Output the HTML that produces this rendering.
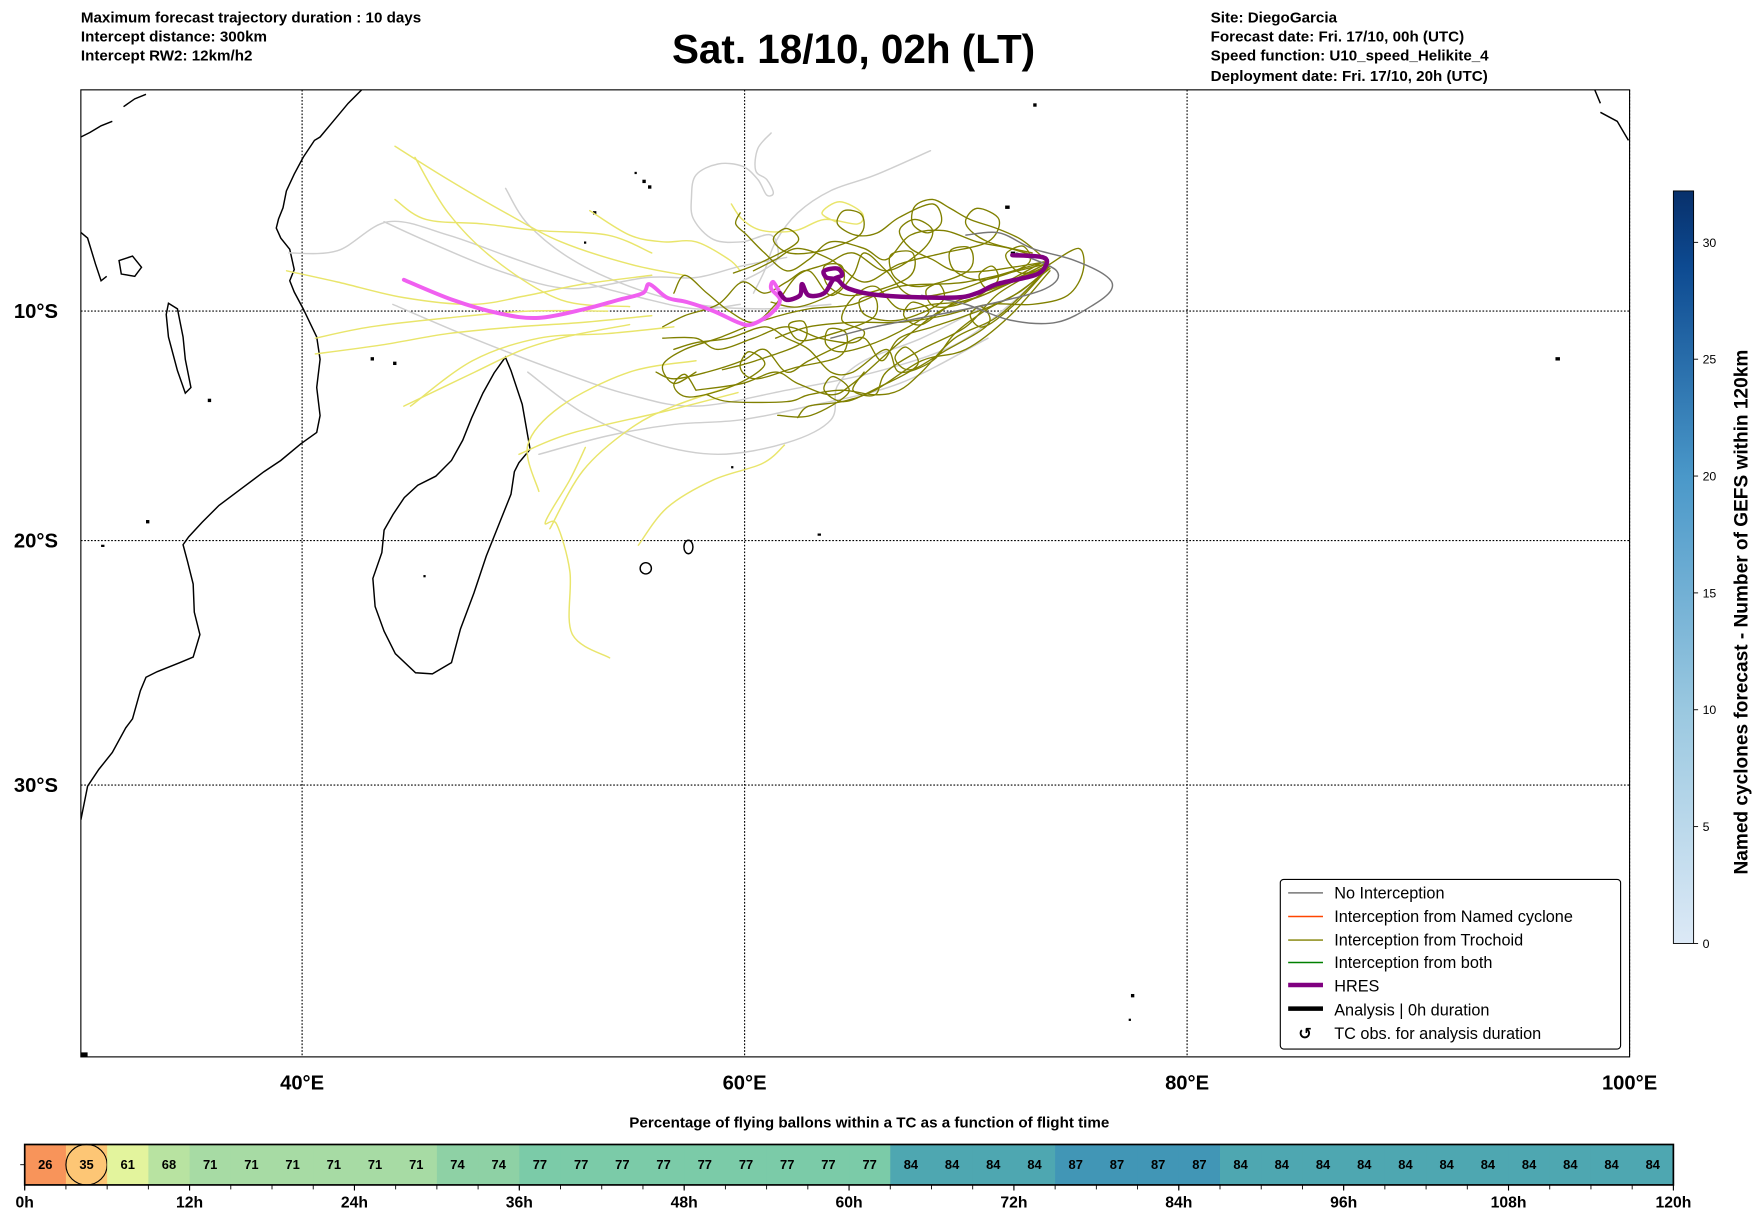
<!DOCTYPE html>
<html><head><meta charset="utf-8">
<style>
html,body{margin:0;padding:0;background:#fff;}
svg{display:block;font-family:"Liberation Sans","DejaVu Sans",sans-serif;}
</style></head>
<body>
<svg id="fig" xmlns="http://www.w3.org/2000/svg" width="1752" height="1213" viewBox="0 0 1560 1080" preserveAspectRatio="none">
<rect x="0" y="0" width="1560" height="1080" fill="#fff"/>
<g font-size="13.5" font-weight="bold">
<text x="72" y="20">Maximum forecast trajectory duration : 10 days</text>
<text x="72" y="37">Intercept distance: 300km</text>
<text x="72" y="54">Intercept RW2: 12km/h2</text>
</g>
<text x="760" y="56" font-size="36" font-weight="bold" text-anchor="middle">Sat. 18/10, 02h (LT)</text>
<g font-size="13.5" font-weight="bold">
<text x="1078" y="20">Site: DiegoGarcia</text>
<text x="1078" y="37">Forecast date: Fri. 17/10, 00h (UTC)</text>
<text x="1078" y="54">Speed function: U10_speed_Helikite_4</text>
<text x="1078" y="72">Deployment date: Fri. 17/10, 20h (UTC)</text>
</g>
<defs><clipPath id="mapclip"><rect x="72" y="80" width="1379" height="861"/></clipPath>
<linearGradient id="cbg" x1="0" y1="1" x2="0" y2="0">
<stop offset="0" stop-color="#dce9f6"/><stop offset="0.31" stop-color="#9ac8e0"/><stop offset="0.62" stop-color="#4a98c9"/><stop offset="0.9" stop-color="#0d4a91"/><stop offset="1" stop-color="#08306b"/>
</linearGradient></defs>
<g id="grid"></g>
<g id="coast" fill="none" stroke="#000" stroke-width="1.3" clip-path="url(#mapclip)">
<path d="M322,80 L310,92 L295,110 L285,122 L280,125 L270,140 L262,155 L255,170 L252,185 L248,195 L246,203 L250,212 L258,222 L262,240 L258,250 L262,260 L270,275 L282,300 L285,320 L282,345 L285,370 L282,385 L268,395 L250,410 L235,420 L215,435 L195,450 L180,465 L168,478 L163,485 L167,500 L172,520 L173,545 L178,565 L172,585 L160,590 L140,598 L130,603 L125,615 L118,640 L112,648 L100,670 L88,685 L78,700 L72,730"/>
<path d="M72,207 L78,212 L85,235 L90,250 L95,246"/>
<path d="M150,270 L158,275 L163,300 L165,320 L170,345 L165,350 L158,330 L150,300 L148,280 Z"/>
<path d="M106,232 L118,228 L126,238 L120,246 L108,244 Z"/>
<path d="M72,122 L80,118 L90,112 L100,108 M110,95 L120,88 L130,84 M1420,80 L1425,92 M1425,100 L1440,108 L1450,125"/>
<path d="M450,318 L455,330 L465,360 L472,400 L462,412 L458,420 L455,440 L445,465 L433,495 L422,528 L410,560 L402,590 L385,600 L370,599 L352,582 L342,562 L334,540 L332,515 L340,492 L342,472 L350,458 L360,443 L372,432 L388,424 L402,410 L412,392 L420,372 L430,350 L440,332 Z"/>
<ellipse cx="575" cy="506" rx="5" ry="5"/>
<ellipse cx="613" cy="487" rx="4" ry="6"/>
<g fill="#000" stroke="none">
<rect x="572" y="160" width="3" height="3"/><rect x="577" y="165" width="3" height="3"/><rect x="565" y="153" width="2" height="2"/>
<rect x="528" y="188" width="3" height="3"/><rect x="350" y="322" width="3" height="3"/><rect x="330" y="318" width="3" height="3"/>
<rect x="900" y="224" width="4" height="4"/><rect x="895" y="183" width="4" height="3"/><rect x="1385" y="318" width="4" height="3"/>
<rect x="1007" y="885" width="3" height="3"/><rect x="1005" y="907" width="2" height="2"/><rect x="728" y="475" width="3" height="2"/>
<rect x="920" y="92" width="3" height="3"/><rect x="130" y="463" width="3" height="3"/><rect x="90" y="485" width="3" height="2"/>
<rect x="72" y="937" width="6" height="4"/><rect x="651" y="415" width="2" height="2"/><rect x="377" y="512" width="2" height="2"/>
<rect x="185" y="355" width="3" height="3"/><rect x="520" y="215" width="2" height="2"/>
</g>
</g>
<g id="tracks" clip-path="url(#mapclip)" fill="none" stroke-linejoin="round" stroke-linecap="round"></g>
<rect x="72" y="80" width="1379" height="861" fill="none" stroke="#000" stroke-width="1"/>
<g id="axlabels" font-size="18" font-weight="bold"></g>
<g>
<rect x="1140" y="783" width="303" height="151" rx="3" fill="#fff" stroke="#000" stroke-width="1"/>
<g font-size="14.5" fill="#000">
<line x1="1147" y1="795" x2="1178" y2="795" stroke="#777" stroke-width="1.3"/><text x="1188" y="800">No Interception</text>
<line x1="1147" y1="816" x2="1178" y2="816" stroke="#ff4500" stroke-width="1.3"/><text x="1188" y="821">Interception from Named cyclone</text>
<line x1="1147" y1="837" x2="1178" y2="837" stroke="#808000" stroke-width="1.3"/><text x="1188" y="842">Interception from Trochoid</text>
<line x1="1147" y1="857" x2="1178" y2="857" stroke="#008000" stroke-width="1.3"/><text x="1188" y="862">Interception from both</text>
<line x1="1147" y1="877" x2="1178" y2="877" stroke="#800080" stroke-width="4"/><text x="1188" y="883">HRES</text>
<line x1="1147" y1="898" x2="1178" y2="898" stroke="#000" stroke-width="4"/><text x="1188" y="904">Analysis | 0h duration</text>
<text x="1162" y="925" font-weight="bold" text-anchor="middle">↺</text><text x="1188" y="925">TC obs. for analysis duration</text>
</g></g>
<g>
<rect x="1490" y="170" width="18" height="670" fill="url(#cbg)" stroke="#000" stroke-width="0.8"/>
<g id="cbticks" font-size="11"></g>
<text transform="translate(1556,545) rotate(-90)" text-anchor="middle" font-size="17" font-weight="bold">Named cyclones forecast - Number of GEFS within 120km</text>
</g>
<text x="774" y="1004" font-size="13.5" font-weight="bold" text-anchor="middle">Percentage of flying ballons within a TC as a function of flight time</text>
<g id="pbar"></g>
</svg>
<script>
// ---------- Map data (lon °E, lat °S) ----------
const gridLons = [40, 60, 80, 100];
const gridLats = [10, 20, 30];
const hresDark = [[72.1,7.5],[73.5,7.6],[73.6,8.0],[73.1,8.4],[71.4,8.8],[70.5,9.2],[69.4,9.4],[66.2,9.3],[64.7,9.0],[64.2,8.6],[63.7,8.5],[63.6,8.2],[64.2,8.1],[64.4,8.4],[64.0,8.6],[63.6,9.2],[62.9,9.3],[62.6,8.8],[62.5,9.3],[61.9,9.5],[61.6,9.2]];
const hresLight = [[61.6,9.2],[61.3,8.7],[61.2,9.0],[61.6,9.5],[61.2,10.1],[60.3,10.6],[59.7,10.5],[58.6,10.0],[57.4,9.6],[56.5,9.4],[55.7,8.8],[55.4,9.2],[54.3,9.5],[52.8,9.9],[50.7,10.3],[48.9,10.1],[46.8,9.5],[44.6,8.6]];
const grayTracks = [
 [[43.7,6.0],[45.7,6.9],[48.9,8.2],[52.1,9.0],[55.6,8.5],[57.8,8.5],[59.8,8.0],[61.9,7.6]],
 [[39.4,7.4],[41.6,7.3],[43.9,6.0],[46.6,6.6],[49.7,7.7],[52.7,8.7],[55.3,9.4],[57.8,9.9],[59.8,9.7]],
 [[49.2,4.5],[50.2,6.1],[52.2,7.7],[54.8,8.9],[57.8,9.7],[60.9,9.9],[63.9,9.7]],
 [[44.1,9.7],[47.7,11.2],[51.7,12.7],[54.8,13.7],[57.8,14.2],[61.9,13.5],[65.9,12.7],[69.5,11.5],[72.0,9.7],[73.6,8.2]],
 [[50.2,12.7],[52.7,14.5],[55.8,15.8],[58.8,16.3],[61.9,15.8],[63.9,14.8],[64.2,13.3],[65.4,12.2],[68.0,11.2],[71.0,9.7]],
 [[50.7,16.3],[53.8,15.5],[56.8,15.0],[59.8,14.8],[62.9,14.2],[67.0,13.2],[71.0,11.2]],
 [[61.2,2.0],[60.6,2.7],[60.5,3.7],[61.0,4.1],[61.3,4.7],[61.0,4.8],[60.6,4.1],[59.9,3.5],[58.8,3.4],[57.8,3.9],[57.6,4.9],[57.7,5.9],[58.6,6.8],[59.9,6.9],[61.2,6.6],[61.5,7.6],[60.8,8.2],[59.8,8.7]],
 [[68.4,2.8],[65.9,3.9],[63.9,4.6],[62.4,5.6],[61.4,6.9],[60.9,8.2],[60.4,9.2]]
];
const darkGrayTracks = [
 [[70.0,6.6],[71.5,6.5],[73.0,7.2],[74.8,7.7],[76.3,8.4],[76.6,9.0],[75.8,9.7],[74.1,10.5],[72.0,10.4],[70.0,9.7],[68.0,9.3]],
 [[72.3,7.4],[74.1,8.2],[73.6,9.0],[71.0,9.7],[68.5,10.2],[65.9,10.7],[63.9,11.2]]
];
const yellowTracks = [
 [[44.2,2.6],[46.6,4.1],[49.2,5.6],[51.7,6.9],[54.8,7.9],[57.3,8.4]],
 [[45.1,3.1],[46.6,5.6],[48.7,7.7],[51.7,9.5],[54.8,9.8]],
 [[44.2,5.0],[45.6,5.9],[48.2,6.1],[50.7,6.4],[53.8,6.6],[55.8,7.4]],
 [[39.3,8.2],[41.6,8.7],[44.6,9.4],[47.7,9.7],[50.2,9.3],[52.7,8.8],[55.8,8.4]],
 [[40.6,11.9],[43.6,11.5],[46.6,11.0],[49.7,10.7],[52.7,10.5],[55.8,10.2]],
 [[40.6,11.2],[43.1,10.7],[46.6,10.3],[50.2,10.0],[53.8,10.0]],
 [[44.9,14.2],[47.7,12.2],[50.7,11.2],[53.8,11.0],[56.8,10.7]],
 [[50.7,17.9],[50.2,15.9],[51.7,14.2],[54.8,12.7],[57.8,12.2]],
 [[51.2,19.5],[52.7,17.0],[54.8,15.2],[56.8,14.2],[59.8,13.2]],
 [[52.8,16.0],[52.1,17.4],[51.0,19.2],[51.5,19.3],[52.1,21.3],[52.2,23.9],[53.9,24.9]],
 [[55.2,20.2],[56.5,18.6],[58.6,17.4],[60.8,16.7],[61.8,15.9]],
 [[59.4,5.2],[59.9,5.9],[60.8,6.4],[62.3,6.4],[63.6,5.9],[65.1,6.1],[65.3,5.6],[64.3,5.1],[63.5,5.6],[64.1,6.0]],
 [[53.0,5.5],[54.8,6.6],[56.3,6.9],[57.8,6.9],[59.3,7.7],[59.8,8.2]],
 [[44.6,14.2],[47.8,12.7],[50.0,11.7],[52.1,11.1],[54.8,10.6]],
 [[49.8,16.3],[52.1,15.4],[56.5,14.4],[59.7,13.6]]
];
const oliveTracks = [
 [[73.6,7.8],[71.5,8.4],[69.5,9.1],[67.5,9.3],[66.4,8.2],[65.4,7.4],[64.9,8.4],[63.9,9.3],[62.9,8.2],[61.9,8.7],[60.9,9.2],[59.9,8.7],[58.8,9.7],[57.3,10.2],[56.3,10.7]],
 [[73.8,8.1],[72.0,9.4],[70.0,10.2],[68.5,10.7],[67.0,11.2],[66.2,12.2],[65.4,11.2],[64.4,11.5],[62.9,12.2],[61.9,12.7],[60.9,11.7],[59.9,12.2],[58.3,12.7],[56.8,13.0],[56.0,12.7]],
 [[73.6,8.2],[71.5,10.2],[69.5,11.2],[68.0,12.7],[67.0,13.5],[65.9,13.7],[64.4,13.5],[62.9,13.7],[61.9,14.0],[59.3,14.0],[58.3,13.7]],
 [[73.6,7.7],[72.0,7.2],[70.5,6.9],[69.0,6.4],[67.5,6.6],[66.4,7.7],[65.4,7.2],[63.9,6.9],[62.9,7.7],[61.9,8.2],[60.9,7.4],[60.1,6.6],[59.6,6.1],[59.8,5.6]],
 [[73.8,8.0],[72.5,9.1],[71.0,9.9],[69.5,11.0],[68.5,12.2],[67.0,12.7],[66.4,11.7],[64.9,12.7],[63.9,12.7],[62.9,11.7],[61.9,11.2],[60.9,10.7],[59.3,11.2],[57.8,11.4],[56.8,11.7]],
 [[73.8,7.9],[71.5,9.2],[70.0,10.7],[68.0,11.7],[66.4,12.7],[65.9,13.7],[64.9,13.5],[65.4,12.7]],
 [[73.6,7.8],[71.0,8.2],[69.5,8.2],[68.5,7.7],[67.5,7.2],[67.0,6.4],[67.7,5.9],[68.5,6.4],[68.0,7.3],[66.4,8.2],[64.9,7.4],[63.7,7.9],[62.4,8.4],[61.4,9.7],[60.4,10.5],[59.3,10.0],[58.3,9.2],[57.3,8.4],[56.8,9.2]],
 [[73.8,7.9],[75.1,7.2],[75.3,8.2],[74.6,9.3],[73.0,9.7],[71.0,9.7],[69.0,10.2],[67.0,10.5],[64.9,10.5],[62.9,10.7],[61.4,11.2]],
 [[73.6,7.9],[70.5,9.4],[68.5,9.7],[67.0,9.9],[65.9,8.9],[64.9,9.4],[64.4,10.4],[65.4,10.9],[64.9,11.4],[63.4,11.2],[61.9,10.7],[60.4,11.2],[58.8,11.7],[57.8,11.2],[56.3,11.2]],
 [[73.8,7.9],[71.0,9.2],[69.0,9.9],[67.0,11.4],[64.9,13.2],[63.9,13.7],[62.4,13.2],[61.4,12.7],[59.9,13.2],[57.8,13.5]],
 [[73.0,7.4],[71.0,6.9],[70.0,6.1],[70.5,5.4],[71.5,5.9],[71.0,6.9],[69.0,7.4],[67.0,7.9],[65.4,8.7],[63.9,7.7],[62.4,7.2],[61.4,7.7],[60.4,8.2]],
 [[73.8,8.2],[72.0,10.2],[70.0,11.7],[68.0,12.2],[65.9,13.5],[64.4,14.0],[62.9,14.2],[62.4,14.7]],
 [[73.6,7.9],[70.0,8.7],[67.0,8.9],[64.9,9.7],[62.9,9.9],[60.9,10.4],[58.8,11.2],[57.3,11.7],[56.3,12.4],[56.8,13.2],[57.8,12.7]],
 [[73.5,7.8],[72,8.6],[71,9.0],[70.6,8.4],[71.2,8.0],[71.4,8.7],[70,9.6],[68.6,9.8],[68.2,9.1],[68.8,8.8],[68.9,9.6],[67,10.4],[65.5,10.2],[65.2,9.5],[65.9,9.4],[65.8,10.3],[64,11],[62.5,11.3],[62,10.6],[62.7,10.5],[62.6,11.4],[60.5,12.2],[59,12.6]],
 [[73.8,8.0],[72.5,8.3],[71.8,7.5],[72.6,7.1],[72.8,7.9],[70.8,8.6],[69.5,8.2],[69.3,7.3],[70.2,7.2],[70.1,8.2],[68,8.9],[66.8,8.5],[66.6,7.5],[67.6,7.4],[67.4,8.5],[65,9.3],[63.8,8.9],[63.6,8.0],[64.4,8.0],[64.3,9.0],[62.5,9.8],[61.2,9.6]],
 [[73.7,8.1],[72.2,9.7],[70.8,10.7],[70.2,10.2],[70.7,9.8],[71,10.6],[69,11.8],[67.5,12.6],[66.8,12.1],[67.3,11.6],[67.8,12.4],[66,13.4],[64.5,14.0],[63.6,13.5],[64.0,12.9],[64.7,13.6],[63,14.6],[61.5,14.6]],
 [[73.6,7.9],[71.5,8.9],[69.5,9.6],[68,10.6],[67.2,10.2],[67.6,9.6],[68.3,10.1],[66.4,11.2],[64.5,11.8],[63.7,11.5],[63.8,10.8],[64.6,11.0],[64.3,12],[62.3,12.5],[60.5,13.0],[59.8,12.5],[60.2,11.8],[60.9,12.4],[59.5,13.3],[57.5,13.8],[56.8,13.3],[57.3,12.8],[57.8,13.5]],
 [[73.5,7.6],[72.5,6.8],[71.4,6.3],[70.2,5.9],[69.3,5.4],[68.5,5.0],[67.7,5.3],[67.6,6.1],[68.3,6.5],[68.9,6.0],[68.5,5.2],[67.0,5.8],[66.0,6.5],[65.0,6.6],[64.2,6.1],[64.5,5.5],[65.3,5.7],[65.2,6.6],[63.5,7.3],[62.0,7.4],[61.3,6.8],[61.9,6.3],[62.4,6.9],[60.8,7.8],[59.5,8.3]]
];
const cbTicks = [0, 5, 10, 15, 20, 25, 30];
const cbMax = 32.2;
// ---------- Bottom bar data ----------
const pctValues = [26,35,61,68,71,71,71,71,71,71,74,74,77,77,77,77,77,77,77,77,77,84,84,84,84,87,87,87,87,84,84,84,84,84,84,84,84,84,84,84];
const hourTicks = ["0h","12h","24h","36h","48h","60h","72h","84h","96h","108h","120h"];
const highlightIndex = 1;
const maxHours = 120;

const NS = "http://www.w3.org/2000/svg";
function mk(tag, attrs, parent){ const e=document.createElementNS(NS,tag); for(const k in attrs) e.setAttribute(k,attrs[k]); parent.appendChild(e); return e; }
const X0=72, X1=1451, Y0=80, Y1=941, DEG=19.7;
function px(lon){ return X0 + (lon-30)*DEG; }
function py(lat){ const r=lat*Math.PI/180; return 79 + Math.log(Math.tan(Math.PI/4 + r/2))*180/Math.PI*DEG; }
function pathOf(tr){
 const P=tr.map(p=>[px(p[0]),py(p[1])]);
 let d='M'+P[0][0].toFixed(1)+','+P[0][1].toFixed(1);
 for(let i=0;i<P.length-1;i++){
  const p0=P[Math.max(0,i-1)],p1=P[i],p2=P[i+1],p3=P[Math.min(P.length-1,i+2)];
  const c1=[p1[0]+(p2[0]-p0[0])/6,p1[1]+(p2[1]-p0[1])/6];
  const c2=[p2[0]-(p3[0]-p1[0])/6,p2[1]-(p3[1]-p1[1])/6];
  d+=' C'+c1[0].toFixed(1)+','+c1[1].toFixed(1)+' '+c2[0].toFixed(1)+','+c2[1].toFixed(1)+' '+p2[0].toFixed(1)+','+p2[1].toFixed(1);
 }
 return d;
}

const grid=document.getElementById('grid');
gridLons.forEach(l=>{ const e=mk('line',{x1:px(l),x2:px(l),y1:Y0,y2:Y1,stroke:'#000','stroke-width':1,'stroke-dasharray':'1.5,1.5'},grid);
 
  });
gridLats.forEach(l=>{ const e=mk('line',{x1:X0,x2:X1,y1:py(l),y2:py(l),stroke:'#000','stroke-width':1,'stroke-dasharray':'1.5,1.5'},grid);
 
  });

const ax=document.getElementById('axlabels');
gridLons.forEach(l=>{ const t=mk('text',{x:px(l),y:970,'text-anchor':'middle'},ax); t.textContent=l+'°E';
 
  });
gridLats.forEach(l=>{ const t=mk('text',{x:32,y:py(l)+6,'text-anchor':'middle'},ax); t.textContent=l+'°S';
 
  });

const tg=document.getElementById('tracks');
function drawSet(set, color, w, name){
 set.forEach((tr,i)=>{ const e=mk('path',{d:pathOf(tr),stroke:color,'stroke-width':w},tg);
  
   });
}
drawSet(grayTracks,'#cfcfcf',1.3,'gray-track');
drawSet(yellowTracks,'#e9e56b',1.3,'yellow-track');
drawSet(oliveTracks,'#808000',1.2,'trochoid-track');
drawSet(darkGrayTracks,'#777777',1.3,'no-interception-track');
drawSet([hresLight],'#f060f0',3.5,'hres-light');
drawSet([hresDark],'#800080',4,'hres-dark');

const cb=document.getElementById('cbticks');
cbTicks.forEach(v=>{ const y=840-(v/cbMax)*670;
 const l=mk('line',{x1:1508,x2:1512,y1:y,y2:y,stroke:'#000','stroke-width':0.8},cb);
 
 
 const t=mk('text',{x:1516,y:y+4},cb); t.textContent=v;
 
  });

// bottom bar
const stops=[[26,[248,148,90]],[35,[253,198,117]],[61,[227,244,157]],[68,[184,227,161]],[71,[167,219,164]],[74,[142,209,165]],[77,[123,203,168]],[84,[78,167,177]],[87,[65,150,182]]];
function colorOf(v){ for(let i=0;i<stops.length-1;i++){ const a=stops[i],b=stops[i+1]; if(v<=b[0]){ const t=Math.max(0,(v-a[0])/(b[0]-a[0])); const c=a[1].map((x,j)=>Math.round(x+(b[1][j]-x)*t)); return 'rgb('+c.join(',')+')'; } } return 'rgb(65,150,182)'; }
const pb=document.getElementById('pbar');
const BX0=22, BX1=1490, BY0=1019, BY1=1055;
function bx(h){ return BX0 + (h/maxHours)*(BX1-BX0); }
const step=maxHours/pctValues.length;
pctValues.forEach((v,i)=>{
 const r=mk('rect',{x:bx(i*step),y:BY0,width:bx((i+1)*step)-bx(i*step)+0.5,height:BY1-BY0,fill:colorOf(v)},pb);
 
 
 if(i===highlightIndex){ const c=mk('ellipse',{cx:bx((i+0.5)*step),cy:(BY0+BY1)/2,rx:(bx(step)-bx(0))/2,ry:(BY1-BY0)/2,fill:'none',stroke:'#000','stroke-width':1},pb);
  
   }
 const t=mk('text',{x:bx((i+0.5)*step),y:(BY0+BY1)/2+4,'text-anchor':'middle','font-size':11.5,'font-weight':'bold'},pb); t.textContent=v;
 
 
 const tk=mk('line',{x1:bx(i*step),x2:bx(i*step),y1:BY1,y2:BY1+4,stroke:'#000','stroke-width':0.8},pb);
 
 
});
const fr=mk('rect',{x:BX0,y:BY0,width:BX1-BX0,height:BY1-BY0,fill:'none',stroke:'#000','stroke-width':1.5},pb);


const yt=mk('line',{x1:BX0-4,x2:BX0,y1:(BY0+BY1)/2,y2:(BY0+BY1)/2,stroke:'#000','stroke-width':0.8},pb);


hourTicks.forEach((lab,i)=>{ const h=i*12;
 const l=mk('line',{x1:bx(h),x2:bx(h),y1:BY1,y2:BY1+5,stroke:'#000','stroke-width':1},pb);
 
 
 const t=mk('text',{x:bx(h),y:1075,'text-anchor':'middle','font-size':14,'font-weight':'bold'},pb); t.textContent=lab;
 
  });
</script>
</body></html>
